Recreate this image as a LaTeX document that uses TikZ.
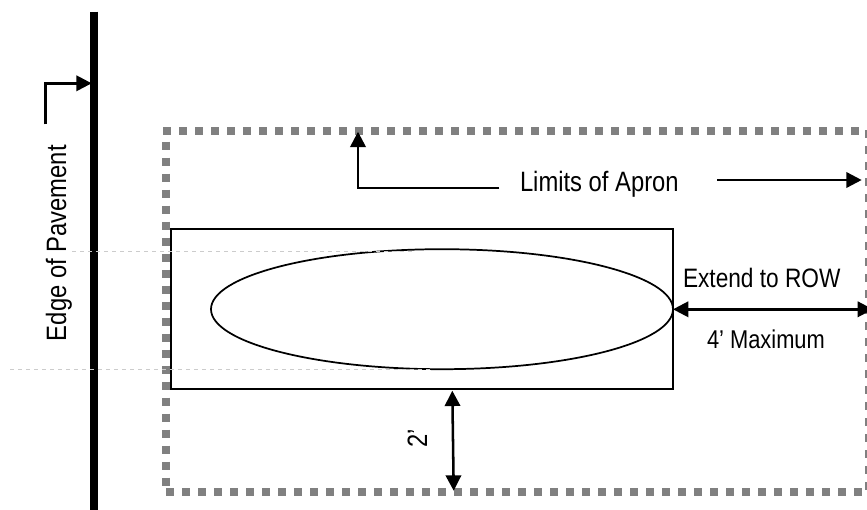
\documentclass[tikz,border=0pt]{standalone}
\usepackage{fontspec}
\setmainfont[FakeStretch=0.85]{Liberation Sans}
\usetikzlibrary{arrows.meta,shapes.geometric}
\tikzset{
  px/.style={x=0.75pt,y=-0.75pt},
  apron/.style={draw=black!50,line width=6pt,dash pattern=on 6pt off 6pt},
  leader/.style={draw=black,line width=1.9pt,-{Triangle[length=11.5pt,width=11.5pt]}},
  dbl/.style={draw=black,line width=1.9pt,{Triangle[length=11.5pt,width=11.5pt]}-{Triangle[length=11.5pt,width=11.5pt]}},
  guide/.style={draw=black!20,line width=0.6pt,dashed},
  outline/.style={draw=black,line width=1.3pt},
  lab/.style={inner sep=0pt,outer sep=0pt,anchor=base west,font=\fontsize{21}{24}\selectfont},
  rowlab/.style={lab,font=\fontsize{20}{24}\selectfont},
  smalllab/.style={lab,font=\fontsize{19.3}{22}\selectfont},
}
\begin{document}
\begin{tikzpicture}[px]
\useasboundingbox (0,0) rectangle (867,510);
% apron limits
\coordinate (tl) at (163.3,131.3);
\coordinate (tr) at (860,131.3);
\coordinate (ll0) at (166.3,141.6);
\coordinate (ll1) at (166.3,487);
\coordinate (bl) at (166,491.5);
\coordinate (br) at (862,491.5);
\coordinate (rr0) at (868.7,130.3);
\coordinate (rr1) at (868.7,490.5);
\draw[apron] (tl) -- (tr);
\draw[apron] (ll0) -- (ll1);
\draw[apron] (bl) -- (br);
\draw[apron] (rr0) -- (rr1);
% pavement edge
\coordinate (pt) at (94.2,11.7);
\coordinate (pb) at (94.2,510);
\draw[line width=6.2pt] (pt) -- (pb);
% inlet
\node[outline,draw,rectangle,minimum width=376.5pt,minimum height=120pt,inner sep=0pt] (box) at (421.7,309.3) {};
\node[outline,draw,ellipse,minimum width=346.5pt,minimum height=90pt,inner sep=0pt] (ell) at (442,309.2) {};
% guides
\coordinate (g1a) at (72,251.6);
\coordinate (g1b) at (415,251.6);
\coordinate (g2a) at (10,369.5);
\coordinate (g2b) at (433,369.5);
\draw[guide] (g1a) -- (g1b);
\draw[guide] (g2a) -- (g2b);
% labels
\node[lab,rotate=90] (edge) at (66,341) {Edge of Pavement};
\node[lab] (limits) at (520,191) {Limits of Apron};
\node[rowlab] (row) at (683,287) {Extend to ROW};
\node[smalllab] (max) at (707,348.5) {4’ Maximum};
\node[lab,rotate=90] (two) at (427,447.5) {2’};
% leaders
\coordinate (e0) at (45.7,124.3);
\coordinate (e1) at (45.7,83.3);
\coordinate (e2) at (91.7,83.3);
\draw[leader] (e0) -- (e1) -- (e2);
\coordinate (l0) at (499.3,188);
\coordinate (l1) at (358,188);
\coordinate (l2) at (358,131.7);
\draw[leader] (l0) -- (l1) -- (l2);
\coordinate (r0) at (717,180);
\coordinate (r1) at (861.7,180);
\draw[leader] (r0) -- (r1);
\coordinate (d0) at (673,309.3);
\coordinate (d1) at (873,309.3);
\draw[dbl] (d0) -- (d1);
\coordinate (v0) at (452.3,390.7);
\coordinate (v1) at (453.7,490.7);
\draw[dbl] (v0) -- (v1);
\end{tikzpicture}
\end{document}
